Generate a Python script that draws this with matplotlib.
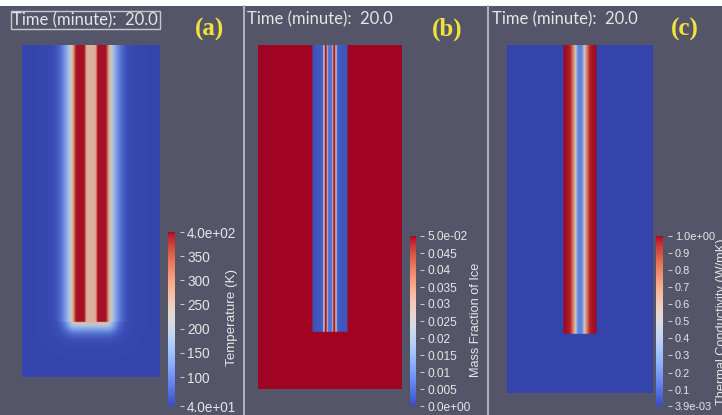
import numpy as np
import matplotlib
matplotlib.use('Agg')
import matplotlib.pyplot as plt
from matplotlib.colors import Normalize, ListedColormap
from matplotlib.cm import ScalarMappable
from matplotlib.patches import Rectangle
from matplotlib.lines import Line2D

W, H = 722, 415
BG = '#545569'
TXT = '#e6e6e6'
YEL = '#f2e23a'

time_label = 'Time (minute):  20.0'
panel_tags = ['(a)', '(b)', '(c)']

# ---------------- data ----------------
# (a) Temperature (K): profile across heater, distance from axis -> value
temp_range = (40.0, 400.0)
temp_ticks = [400, 350, 300, 250, 200, 150, 100, 40]
temp_ticklabels = ['4.0e+02', '350', '300', '250', '200', '150', '100', '4.0e+01']
temp_prof_d = [0, 4.5, 5.5, 6.5, 15, 16.5, 18.5, 21, 24, 27, 31, 36, 46, 80]
temp_prof_v = [262, 268, 330, 395, 395, 345, 250, 200, 150, 110, 72, 50, 42, 40]
temp_domain = (138, 332)      # width, depth
temp_heater = (16, 277)       # half width, depth

# (b) Mass fraction of ice
ice_range = (0.0, 0.05)
ice_ticks = [0.05, 0.045, 0.04, 0.035, 0.03, 0.025, 0.02, 0.015, 0.01, 0.005, 0.0]
ice_ticklabels = ['5.0e-02', '0.045', '0.04', '0.035', '0.03', '0.025', '0.02',
                  '0.015', '0.01', '0.005', '0.0e+00']
ice_prof_d = [0, 2.0, 2.8, 3.6, 4.8, 5.6, 6.4, 7.2, 17.5]
ice_prof_v = [0.006, 0.006, 0.026, 0.05, 0.05, 0.03, 0.02, 0.003, 0.002]
ice_outside = 0.05
ice_domain = (144, 344)
ice_heater = (17.5, 287)

# (c) Thermal conductivity (W/mK)
k_range = (0.0039, 1.0)
k_ticks = [1.0, 0.9, 0.8, 0.7, 0.6, 0.5, 0.4, 0.3, 0.2, 0.1, 0.0039]
k_ticklabels = ['1.0e+00', '0.9', '0.8', '0.7', '0.6', '0.5', '0.4', '0.3', '0.2', '0.1', '3.9e-03']
k_prof_d = [0, 2.5, 4.5, 6, 8, 10, 16.5]
k_prof_v = [0.15, 0.2, 0.5, 0.72, 0.86, 0.97, 1.0]
k_outside = 0.0039
k_domain = (146, 348)
k_heater = (16.5, 289)

cb_titles = ['Temperature (K)', 'Mass Fraction of Ice', 'Thermal Conductivity (W/mK)']

# ---------------- layout (pixels) ----------------
field_boxes = [(22, 45, 160, 377), (258, 45, 402, 389), (507, 45, 653, 393)]
bar_boxes = [(168, 232, 175, 406), (410, 236, 416, 406), (656, 236, 663, 406)]
tick_locs = [1.7, 1.67, 1.7]
tick_sizes = [9.8, 8.6, 7.9]
title_sizes = [9.6, 9.2, 9.2]
time_pos = [(12, 20), (247, 19), (492, 19)]
tag_pos = [(209, 29), (447, 29), (685, 29)]
title_pos = [(232, 317, 'center'), (476, 320, 'center'), (716, 322, 'left')]


def frac_rect(x0, y0, x1, y1):
    return [x0 / W, 1 - y1 / H, (x1 - x0) / W, (y1 - y0) / H]


def grid(domain, step=0.5):
    w, d = domain
    xs = np.arange(-w / 2 + step / 2, w / 2, step)
    ys = np.arange(step / 2, d, step)
    return np.meshgrid(xs, ys)


def field_temperature():
    X, Y = grid(temp_domain)
    hw, hd = temp_heater
    ax_ = np.abs(X)
    dx = np.maximum(ax_ - hw, 0)
    dy = np.maximum(Y - hd, 0)
    e = np.sqrt(dx ** 2 + dy ** 2)
    deff = np.where(Y <= hd, ax_, hw + 2 + e)
    return np.interp(deff, temp_prof_d, temp_prof_v)


def field_inside(domain, heater, pd, pv, outside):
    X, Y = grid(domain, 0.25)
    hw, hd = heater
    ax_ = np.abs(X)
    inside = (ax_ <= hw) & (Y <= hd)
    return np.where(inside, np.interp(ax_, pd, pv), outside)


fig = plt.figure(figsize=(W / 100, H / 100), dpi=100, facecolor=BG)
cmap = plt.get_cmap('coolwarm')
shade = cmap(np.linspace(0, 1, 256))
shade[:, :3] *= 0.9
field_cmap = ListedColormap(shade)

fields = [field_temperature(),
          field_inside(ice_domain, ice_heater, ice_prof_d, ice_prof_v, ice_outside),
          field_inside(k_domain, k_heater, k_prof_d, k_prof_v, k_outside)]
ranges = [temp_range, ice_range, k_range]
domains = [temp_domain, ice_domain, k_domain]
ticks = [temp_ticks, ice_ticks, k_ticks]
ticklabels = [temp_ticklabels, ice_ticklabels, k_ticklabels]

for i in range(3):
    ax = fig.add_axes(frac_rect(*field_boxes[i]))
    w, d = domains[i]
    norm = Normalize(*ranges[i])
    ax.imshow(fields[i], cmap=field_cmap, norm=norm, extent=(-w / 2, w / 2, d, 0),
              aspect='auto', interpolation='bilinear')
    ax.set_axis_off()

    cax = fig.add_axes(frac_rect(*bar_boxes[i]))
    sm = ScalarMappable(norm=norm, cmap=cmap)
    cb = fig.colorbar(sm, cax=cax)
    cb.outline.set_visible(False)
    cb.set_ticks([])
    sec = cax.secondary_yaxis(tick_locs[i])
    sec.set_yticks(ticks[i], ticklabels[i])
    sec.spines['right'].set_visible(False)
    sec.tick_params(length=3, width=0.7, color='#cfcfcf', labelcolor=TXT, pad=2.2)
    for lab in sec.get_yticklabels():
        lab.set_fontfamily('Liberation Sans')
        lab.set_fontsize(tick_sizes[i])

    tx, ty, tha = title_pos[i]
    fig.text(tx / W, 1 - ty / H, cb_titles[i], rotation=90, ha=tha, va='center',
             color=TXT, fontsize=title_sizes[i], family='Liberation Sans')

    x, y = time_pos[i]
    fig.text(x / W, 1 - y / H, time_label, ha='left', va='center', color=TXT,
             fontsize=12, family='Lato')
    x, y = tag_pos[i]
    fig.text(x / W, 1 - y / H, panel_tags[i], ha='center', va='center', color=YEL,
             fontsize=18, family='Liberation Serif', fontweight='bold')

# top white strip, separators, time box
fig.add_artist(Rectangle((0, 1 - 6 / H), 1, 6 / H, transform=fig.transFigure,
                         facecolor='white', edgecolor='none'))
for sx in (243.5, 487.5):
    fig.add_artist(Line2D([sx / W, sx / W], [0, 1 - 6 / H], transform=fig.transFigure,
                          color='#b4b4bc', lw=1.4))
bx0, by0, bx1, by1 = 11, 11, 160, 29
fig.add_artist(Rectangle((bx0 / W, 1 - by1 / H), (bx1 - bx0) / W, (by1 - by0) / H,
                         transform=fig.transFigure, facecolor='none',
                         edgecolor='#c8c8c8', lw=1))

fig.savefig('out.png', dpi=100, facecolor=BG)
